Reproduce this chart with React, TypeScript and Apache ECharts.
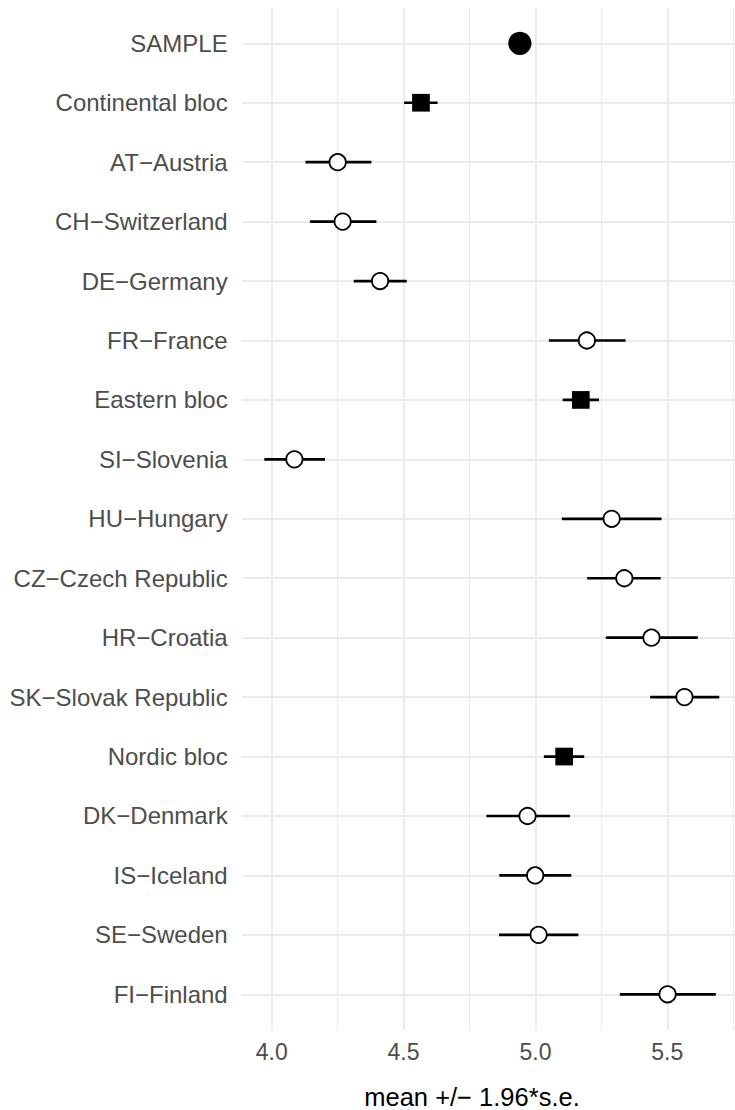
import React, { useEffect, useRef } from "react";
import * as echarts from "echarts";

const categories = [
  "SAMPLE",
  "Continental bloc",
  "AT\u2212Austria",
  "CH\u2212Switzerland",
  "DE\u2212Germany",
  "FR\u2212France",
  "Eastern bloc",
  "SI\u2212Slovenia",
  "HU\u2212Hungary",
  "CZ\u2212Czech Republic",
  "HR\u2212Croatia",
  "SK\u2212Slovak Republic",
  "Nordic bloc",
  "DK\u2212Denmark",
  "IS\u2212Iceland",
  "SE\u2212Sweden",
  "FI\u2212Finland",
];
const kinds = [
  "sample", "bloc", "country", "country", "country", "country",
  "bloc", "country", "country", "country", "country", "country",
  "bloc", "country", "country", "country", "country",
];
const means = [4.941, 4.566, 4.25, 4.269, 4.411, 5.195, 5.172, 4.086, 5.289, 5.337, 5.44, 5.565, 5.109, 4.97, 4.999, 5.012, 5.501];
const lower = [4.925, 4.502, 4.128, 4.145, 4.311, 5.051, 5.103, 3.972, 5.1, 5.196, 5.267, 5.435, 5.032, 4.814, 4.863, 4.862, 5.32];
const upper = [4.957, 4.629, 4.378, 4.397, 4.512, 5.342, 5.241, 4.202, 5.478, 5.475, 5.616, 5.697, 5.185, 5.131, 5.136, 5.163, 5.684];
const majorTicks = [4.0, 4.5, 5.0, 5.5];
const xTitle = "mean +/\u2212 1.96*s.e.";

const FONT = "'Liberation Sans', Arial, Helvetica, sans-serif";
const GRID = "#ebebeb";

export default function App() {
  const ref = useRef<HTMLDivElement>(null);
  useEffect(() => {
    if (!ref.current) return;
    const chart = echarts.init(ref.current, null, { renderer: "svg" });

    // pixel mapping: 4.0 -> 271.7, 5.5 -> 667.3
    const x40 = 271.7;
    const pxPerUnit = (667.3 - 271.7) / 1.5;
    const panelLeft = 241.7;
    const panelRight = 735;
    const dataMin = 4.0 - (x40 - panelLeft) / pxPerUnit;
    const dataMax = 4.0 + (panelRight - x40) / pxPerUnit;
    const minorLeft = x40 - 0.25 * pxPerUnit;
    const minorWidth = 2.0 * pxPerUnit;

    const pointData = (k: string) =>
      categories.map((c, i) => (kinds[i] === k ? [means[i], c] : [null, c]));

    const option: any = {
      animation: false,
      backgroundColor: "#ffffff",
      grid: [
        { left: minorLeft, width: minorWidth, top: 8, height: 1022, containLabel: false },
        { left: x40, width: 1.5 * pxPerUnit, top: 8, height: 1022, containLabel: false },
        { left: panelLeft, width: panelRight - panelLeft, top: 43.3, height: 951, containLabel: false },
      ],
      xAxis: [
        {
          gridIndex: 0,
          type: "value",
          min: 3.75,
          max: 5.75,
          interval: 0.5,
          axisLine: { show: false },
          axisTick: { show: false },
          axisLabel: { show: false },
          splitLine: { show: true, showMinLine: false, lineStyle: { color: GRID, width: 1.2 } },
        },
        {
          gridIndex: 1,
          type: "value",
          min: majorTicks[0],
          max: majorTicks[majorTicks.length - 1],
          interval: 0.5,
          axisLine: { show: false },
          axisTick: { show: false },
          axisLabel: {
            show: true,
            margin: 10,
            color: "#4d4d4d",
            fontSize: 23,
            fontFamily: FONT,
            formatter: (v: number) => v.toFixed(1),
          },
          splitLine: { show: true, lineStyle: { color: GRID, width: 2 } },
        },
        {
          gridIndex: 2,
          type: "value",
          min: dataMin,
          max: dataMax,
          show: false,
          splitLine: { show: false },
        },
      ],
      yAxis: [
        { gridIndex: 0, type: "value", min: 0, max: 1, show: false },
        { gridIndex: 1, type: "value", min: 0, max: 1, show: false },
        {
          gridIndex: 2,
          type: "category",
          data: categories,
          inverse: true,
          boundaryGap: false,
          axisLine: { show: false },
          axisTick: { show: false },
          axisLabel: {
            interval: 0,
            margin: 14,
            color: "#4d4d4d",
            fontSize: 24,
            fontFamily: FONT,
          },
          splitLine: { show: true, interval: 0, lineStyle: { color: GRID, width: 2 } },
        },
      ],
      graphic: [
        {
          type: "text",
          x: 472,
          y: 1097,
          style: {
            text: xTitle,
            fill: "#000000",
            font: `25.5px ${FONT}`,
            textAlign: "center",
            textVerticalAlign: "middle",
          },
        },
      ],
      series: [
        {
          type: "custom",
          xAxisIndex: 2,
          yAxisIndex: 2,
          encode: { y: 0, x: [1, 2] },
          data: categories.map((c, i) => [i, lower[i], upper[i]]),
          renderItem: (params: any, api: any) => {
            const a = api.coord([api.value(1), api.value(0)]);
            const b = api.coord([api.value(2), api.value(0)]);
            return {
              type: "line",
              shape: { x1: a[0], y1: a[1], x2: b[0], y2: b[1] },
              style: { stroke: "#000000", lineWidth: 2.7 },
            };
          },
          z: 3,
        },
        {
          type: "scatter",
          xAxisIndex: 2,
          yAxisIndex: 2,
          symbol: "circle",
          symbolSize: 16.3,
          itemStyle: { color: "#ffffff", borderColor: "#000000", borderWidth: 1.8, opacity: 1 },
          data: pointData("country"),
          z: 4,
        },
        {
          type: "scatter",
          xAxisIndex: 2,
          yAxisIndex: 2,
          symbol: "rect",
          symbolSize: 17.7,
          itemStyle: { color: "#000000", opacity: 1 },
          data: pointData("bloc"),
          z: 4,
        },
        {
          type: "scatter",
          xAxisIndex: 2,
          yAxisIndex: 2,
          symbol: "circle",
          symbolSize: 23.3,
          itemStyle: { color: "#000000", opacity: 1 },
          data: pointData("sample"),
          z: 4,
        },
      ],
    };
    chart.setOption(option);
    return () => chart.dispose();
  }, []);
  return (
    <div
      ref={ref}
      style={{ position: "absolute", left: 0, top: 0, width: 735, height: 1110, background: "#fff" }}
    />
  );
}
